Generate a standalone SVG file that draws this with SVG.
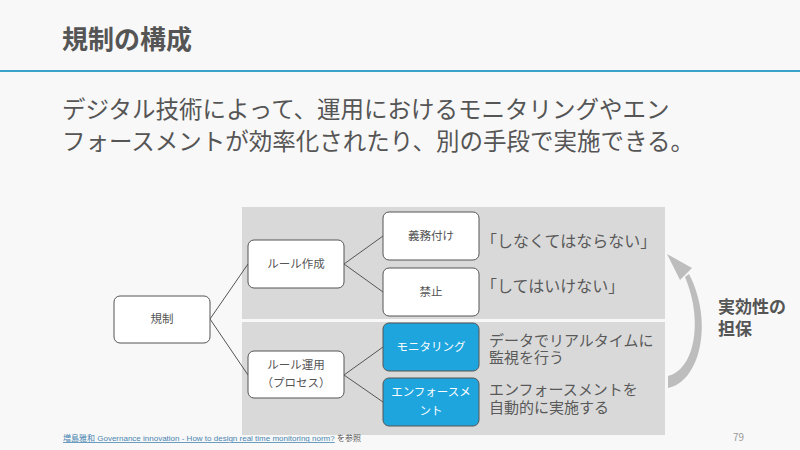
<svg xmlns="http://www.w3.org/2000/svg" width="800" height="450" viewBox="0 0 800 450">
<style>
text{font-family:"Noto Sans CJK JP","Noto Sans",sans-serif;fill:#555}
.node rect{fill:#fff;stroke:#555;stroke-width:1}
.node.blue rect{fill:#1ea5de;stroke:#555}
.nl{font-size:11.5px;text-anchor:middle}
.blue .nl{fill:#fff}
.desc{font-size:15px;fill:#595959}
.q{font-size:16px}
#connectors line{stroke:#555;stroke-width:1}
</style>
<rect width="800" height="450" fill="#f8f8f8"/>
<text x="62" y="49" font-size="26" font-weight="bold">規制の構成</text>
<rect x="0" y="70" width="800" height="2" fill="#3aa3c9"/>
<text x="62" y="118" font-size="23.5">デジタル技術によって、運用におけるモニタリングやエン</text>
<text x="62" y="150" font-size="23.5">フォースメントが効率化されたり、別の手段で実施できる。</text>
<rect x="242" y="207" width="423" height="112" fill="#d9d9d9"/>
<rect x="242" y="322" width="423" height="113" fill="#d9d9d9"/>
<g id="connectors">
<line x1="210" y1="319" x2="248" y2="264"/>
<line x1="210" y1="319" x2="248" y2="375"/>
<line x1="344" y1="264" x2="383" y2="236"/>
<line x1="344" y1="264" x2="383" y2="292"/>
<line x1="344" y1="375" x2="383" y2="347"/>
<line x1="344" y1="375" x2="383" y2="402"/>
</g>
<g id="n-kisei" class="node"><rect x="114" y="296" width="96" height="47" rx="6"/><text class="nl" x="162" y="323">規制</text></g>
<g id="n-sakusei" class="node"><rect x="248" y="240" width="96" height="48" rx="6"/><text class="nl" x="296" y="268">ルール作成</text></g>
<g id="n-unyo" class="node"><rect x="248" y="351" width="96" height="47" rx="6"/><text class="nl" x="296" y="369">ルール運用</text><text class="nl" x="296" y="387">（プロセス）</text></g>
<g id="n-gimu" class="node"><rect x="383" y="212" width="96" height="48" rx="6"/><text class="nl" x="431" y="240">義務付け</text></g>
<g id="n-kinshi" class="node"><rect x="383" y="268" width="96" height="48" rx="6"/><text class="nl" x="431" y="296">禁止</text></g>
<g id="n-monitor" class="node blue"><rect x="383" y="323" width="96" height="48" rx="6"/><text class="nl" x="431" y="351">モニタリング</text></g>
<g id="n-enforce" class="node blue"><rect x="383" y="378" width="96" height="48" rx="6"/><text class="nl" x="431" y="396">エンフォースメ</text><text class="nl" x="431" y="415">ント</text></g>
<text class="desc q" x="481" y="247">「しなくてはならない」</text>
<text class="desc q" x="481" y="292">「してはいけない」</text>
<text class="desc" x="489" y="346">データでリアルタイムに</text>
<text class="desc" x="489" y="363">監視を行う</text>
<text class="desc" x="489" y="395">エンフォースメントを</text>
<text class="desc" x="489" y="413">自動的に実施する</text>
<g id="arrow" fill="#bdbdbd">
<path d="M668,388 C700,382 714,322 689,274 L685,277 C704,322 694,370 668,376 Z"/>
<polygon points="667,254 692,268 680,280"/>
</g>
<text x="718" y="313" font-size="17" font-weight="bold">実効性の</text>
<text x="718" y="335" font-size="17" font-weight="bold">担保</text>
<text x="63" y="441" font-size="8" style="font-family:'Liberation Sans','Noto Sans CJK JP',sans-serif"><tspan style="fill:#4a86b0" text-decoration="underline">増島雅和 Governance innovation - How to design real time monitoring norm?</tspan> を参照</text>
<text x="733" y="441" font-size="10" style="fill:#999">79</text>
</svg>
